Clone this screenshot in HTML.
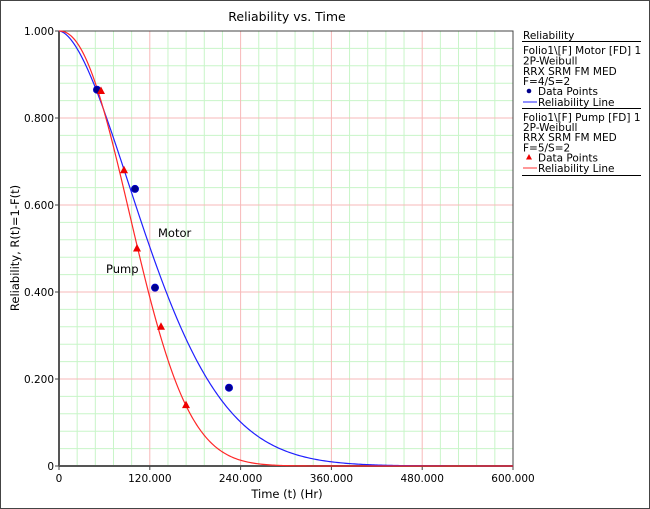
<!DOCTYPE html>
<html><head><meta charset="utf-8"><style>
body{margin:0;background:#fff}
svg{display:block;font-family:"DejaVu Sans","Liberation Sans",sans-serif}
</style></head><body>
<svg id="s" width="650" height="509" viewBox="0 0 650 509">
<rect x="0.5" y="0.5" width="649" height="508" fill="#fff" stroke="#444" stroke-width="1"/>
<g id="grid"></g>
<text x="287" y="21" font-size="12.5" text-anchor="middle">Reliability vs. Time</text>
<text x="287" y="498" font-size="11.5" text-anchor="middle">Time (t) (Hr)</text>
<text transform="translate(19,248) rotate(-90)" font-size="11.5" text-anchor="middle">Reliability, R(t)=1-F(t)</text>
<g id="ticks" font-size="10.5"></g>
<g id="curves"></g>
<text x="158" y="237" font-size="11.5">Motor</text>
<text x="106" y="273" font-size="11.5">Pump</text>
<g font-size="10.5">
<text x="523" y="39">Reliability</text>
<line x1="522" y1="41.5" x2="641" y2="41.5" stroke="#000"/>
<text x="523" y="54">Folio1\[F] Motor [FD] 1</text>
<text x="523" y="64.5">2P-Weibull</text>
<text x="523" y="75">RRX SRM FM MED</text>
<text x="523" y="85">F=4/S=2</text>
<circle cx="529" cy="91" r="2.3" fill="#00008b"/>
<text x="538" y="95">Data Points</text>
<line x1="523" y1="102" x2="537" y2="102" stroke="#2020ff"/>
<text x="538" y="106">Reliability Line</text>
<line x1="522" y1="108.5" x2="641" y2="108.5" stroke="#000"/>
<text x="523" y="121">Folio1\[F] Pump [FD] 1</text>
<text x="523" y="131">2P-Weibull</text>
<text x="523" y="141">RRX SRM FM MED</text>
<text x="523" y="151.5">F=5/S=2</text>
<polygon points="529,154 532,159.5 526,159.5" fill="#e00"/>
<text x="538" y="161.5">Data Points</text>
<line x1="523" y1="168" x2="537" y2="168" stroke="#f33"/>
<text x="538" y="172">Reliability Line</text>
<line x1="522" y1="175.5" x2="641" y2="175.5" stroke="#000"/>
</g>
</svg>
<script>
const NS="http://www.w3.org/2000/svg";
const X0=59,X1=513,Y0=466,Y1=31;
const fx=t=>X0+(X1-X0)*t/600, fy=r=>Y0-(Y0-Y1)*r;
function el(p,tag,a){const e=document.createElementNS(NS,tag);for(const k in a)e.setAttribute(k,a[k]);p.appendChild(e);return e;}
const g=document.getElementById('grid'),tk=document.getElementById('ticks'),cv=document.getElementById('curves');
for(let i=1;i<25;i++){if(i%5)el(g,'line',{x1:fx(i*24),x2:fx(i*24),y1:Y1,y2:Y0,stroke:'#c8f5c8'});}
for(let i=1;i<25;i++){if(i%5)el(g,'line',{x1:X0,x2:X1,y1:fy(i*0.04),y2:fy(i*0.04),stroke:'#c8f5c8'});}
for(let i=1;i<5;i++){el(g,'line',{x1:fx(i*120),x2:fx(i*120),y1:Y1,y2:Y0,stroke:'#f7b8b8'});el(g,'line',{x1:X0,x2:X1,y1:fy(i*0.2),y2:fy(i*0.2),stroke:'#f7b8b8'});}
el(g,'rect',{x:X0,y:Y1,width:X1-X0,height:Y0-Y1,fill:'none',stroke:'#444'});
el(g,'line',{x1:X0,x2:X0,y1:Y1,y2:Y0,stroke:'#555','stroke-width':2});
el(g,'line',{x1:X0,x2:X1,y1:Y0,y2:Y0,stroke:'#555','stroke-width':2});
const yl=['0','0.200','0.400','0.600','0.800','1.000'];
yl.forEach((s,i)=>{const y=fy(i*0.2);el(tk,'line',{x1:X0-4,x2:X0,y1:y,y2:y,stroke:'#444'});const t=el(tk,'text',{x:X0-5,y:y+4,'text-anchor':'end'});t.textContent=s;});
['0','120.000','240.000','360.000','480.000','600.000'].forEach((s,i)=>{const x=fx(i*120);el(tk,'line',{x1:x,x2:x,y1:Y0,y2:Y0+4,stroke:'#444'});const t=el(tk,'text',{x:x,y:Y0+16,'text-anchor':'middle'});t.textContent=s;});
function curve(b,eta,col){let d='';for(let t=0;t<=600;t+=2){const r=Math.exp(-Math.pow(t/eta,b));d+=(t?'L':'M')+fx(t).toFixed(2)+','+fy(r).toFixed(2);}el(cv,'path',{d:d,fill:'none',stroke:col,'stroke-width':1.2});}
curve(1.74,149,'#2020ff');curve(2.19,123,'#ff2828');
[[97,0.865],[135,0.637],[155,0.41],[229,0.18]].forEach(p=>el(cv,'circle',{cx:p[0],cy:fy(p[1]),r:3.5,fill:'#00008b',stroke:'#0000cc'}));
[[101,0.862],[124,0.68],[137,0.5],[161,0.32],[186,0.14]].forEach(p=>{const x=p[0],y=fy(p[1]);el(cv,'polygon',{points:`${x},${y-4.5} ${x+4},${y+3} ${x-4},${y+3}`,fill:'#e00'});});
</script>
</body></html>
